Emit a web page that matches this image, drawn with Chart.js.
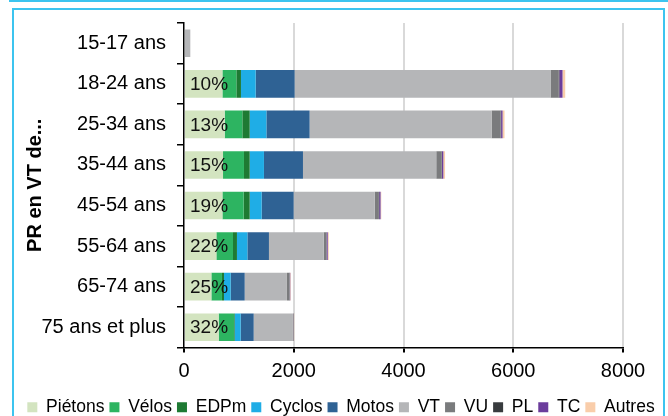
<!DOCTYPE html>
<html lang="fr">
<head>
<meta charset="utf-8">
<title>PR en VT de...</title>
<script src="https://cdn.jsdelivr.net/npm/chart.js@4/dist/chart.umd.min.js"></script>
<style>
    html, body { margin: 0; padding: 0; background: #fff; overflow: hidden; }
    body { width: 668px; height: 416px; position: relative; }
    .top-line { position: absolute; left: 9px; top: 0; width: 659px; height: 2px; background: #3cc4ef; }
    .frame { position: absolute; left: 12px; top: 8px; width: 653px; height: 430px; border: 2px solid #3cc4ef; box-sizing: border-box; }
    #chartWrap { position: absolute; left: 0; top: 0; width: 668px; height: 426px; }
</style>
</head>
<body>
<div class="top-line"></div>
<div class="frame"></div>
<div id="chartWrap"><canvas id="ageChart" width="668" height="426"></canvas></div>
<script>
// Chart data
const ageGroups = ['15-17 ans', '18-24 ans', '25-34 ans', '35-44 ans', '45-54 ans', '55-64 ans', '65-74 ans', '75 ans et plus'];

const pietons = [0, 700, 741, 711, 700, 590, 499, 632];
const velos   = [0, 254, 322, 382, 387, 303, 193, 279];
const edpm    = [0, 84, 134, 104, 110, 72, 37, 12];
const cyclos  = [0, 268, 304, 260, 218, 190, 122, 110];
const motos   = [0, 710, 788, 711, 583, 393, 255, 237];
const vt      = [115, 4663, 3316, 2429, 1476, 997, 770, 715];
const vu      = [0, 146, 164, 97, 78, 49, 49, 10];
const pl      = [0, 15, 10, 8, 5, 5, 3, 2];
const tc      = [0, 58, 26, 24, 25, 20, 8, 4];
const autres  = [0, 49, 36, 31, 13, 19, 10, 6];

// Share of pedestrians, shown inside the first segment
const pietonsShare = ['', '10%', '13%', '15%', '19%', '22%', '25%', '32%'];

const xTicks = [0, 2000, 4000, 6000, 8000];

const FONT = '"Liberation Sans", Arial, Helvetica, sans-serif';

document.addEventListener('DOMContentLoaded', () => {
    initChart();
});

/**
 * Plugin writing the percentage labels on the Piétons bars
 */
const shareLabels = {
    id: 'shareLabels',
    afterDatasetsDraw(chart) {
        const meta = chart.getDatasetMeta(0);
        const ctx = chart.ctx;
        ctx.save();
        ctx.font = '19px ' + FONT;
        ctx.fillStyle = '#111';
        ctx.textAlign = 'left';
        ctx.textBaseline = 'middle';
        meta.data.forEach((bar, i) => {
            if (!pietonsShare[i]) return;
            ctx.fillText(pietonsShare[i], bar.base + 5, bar.y + 1);
        });
        ctx.restore();
    }
};

/**
 * Build the stacked horizontal bar chart
 */
function initChart() {
    const series = [
        { label: 'Piétons', data: pietons, color: '#d3e4c0' },
        { label: 'Vélos',   data: velos,   color: '#2db461' },
        { label: 'EDPm',    data: edpm,    color: '#1e7a33' },
        { label: 'Cyclos',  data: cyclos,  color: '#1fade6' },
        { label: 'Motos',   data: motos,   color: '#2f6294' },
        { label: 'VT',      data: vt,      color: '#b5b6b8' },
        { label: 'VU',      data: vu,      color: '#7a7b7d' },
        { label: 'PL',      data: pl,      color: '#383b3e' },
        { label: 'TC',      data: tc,      color: '#6b3c9c' },
        { label: 'Autres',  data: autres,  color: '#f9cdaa' }
    ];

    new Chart(document.getElementById('ageChart'), {
        type: 'bar',
        data: {
            labels: ageGroups,
            datasets: series.map(s => ({
                label: s.label,
                data: s.data,
                backgroundColor: s.color,
                borderWidth: 0,
                categoryPercentage: 1,
                barPercentage: 0.68
            }))
        },
        options: {
            indexAxis: 'y',
            responsive: false,
            animation: false,
            layout: {
                padding: { left: 14, top: 21, right: 0, bottom: 0 }
            },
            plugins: {
                tooltip: { enabled: false },
                legend: {
                    position: 'bottom',
                    labels: {
                        font: { family: FONT, size: 17.5 },
                        color: '#000',
                        boxWidth: 10,
                        boxHeight: 10,
                        padding: 5
                    }
                }
            },
            scales: {
                x: {
                    stacked: true,
                    min: 0,
                    max: 8000,
                    afterBuildTicks: scale => {
                        scale.ticks = xTicks.map(v => ({ value: v }));
                    },
                    afterFit: scale => { scale.height = 46; },
                    grid: {
                        color: c => (c.tick && c.tick.value === 0) ? 'rgba(0,0,0,0)' : '#d9d9d9',
                        lineWidth: 2,
                        tickColor: '#000',
                        tickLength: 5
                    },
                    border: { display: true, color: '#000', width: 1.5 },
                    ticks: {
                        font: { family: FONT, size: 20 },
                        color: '#000',
                        padding: 7,
                        maxRotation: 0,
                        callback: v => String(v)
                    }
                },
                y: {
                    stacked: true,
                    afterFit: scale => { scale.width = 170; },
                    grid: {
                        drawOnChartArea: false,
                        tickLength: 7,
                        tickColor: '#000',
                        lineWidth: 1.5,
                        offset: true
                    },
                    border: { display: true, color: '#000', width: 1.5 },
                    ticks: {
                        font: { family: FONT, size: 20 },
                        color: '#000',
                        padding: 11
                    },
                    title: {
                        display: true,
                        text: 'PR en VT de...',
                        font: { family: FONT, size: 20, weight: 'bold' },
                        color: '#000',
                        padding: { top: 9, bottom: 0 }
                    }
                },
                // empty right-hand axis, only reserves the margin after 8000
                y2: {
                    type: 'category',
                    position: 'right',
                    afterFit: scale => { scale.width = 45; },
                    grid: { display: false },
                    border: { display: false },
                    ticks: { display: false }
                }
            }
        },
        plugins: [shareLabels]
    });
}
</script>
</body>
</html>
